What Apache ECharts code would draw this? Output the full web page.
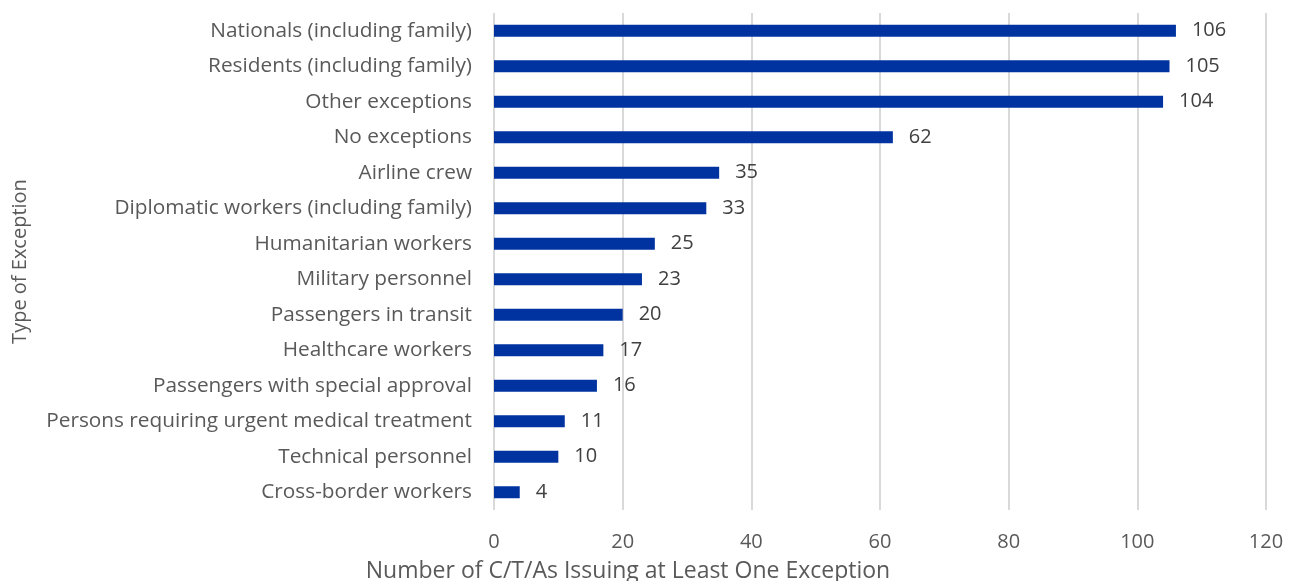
<!DOCTYPE html>
<html>
<head>
<meta charset="utf-8">
<script src="https://cdn.jsdelivr.net/npm/echarts@6/dist/echarts.min.js"></script>
<style>
  html, body { margin: 0; padding: 0; background: #fff; }
  #chart { width: 1290px; height: 581px; }
</style>
</head>
<body>
<div id="chart"></div>
<script>
const categories = [
    'Nationals (including family)',
    'Residents (including family)',
    'Other exceptions',
    'No exceptions',
    'Airline crew',
    'Diplomatic workers (including family)',
    'Humanitarian workers',
    'Military personnel',
    'Passengers in transit',
    'Healthcare workers',
    'Passengers with special approval',
    'Persons requiring urgent medical treatment',
    'Technical personnel',
    'Cross-border workers'
];
const counts = [106, 105, 104, 62, 35, 33, 25, 23, 20, 17, 16, 11, 10, 4];

const chart = echarts.init(document.getElementById('chart'));
const font = '"Open Sans", sans-serif';

chart.setOption({
    animation: false,
    // x-axis title sits centred on the whole chart, not on the plot
    title: {
        text: 'Number of C/T/As Issuing at Least One Exception',
        left: 623,
        top: 555,
        textAlign: 'center',
        textStyle: { fontFamily: font, fontSize: 23, fontWeight: 'normal', color: '#595959' }
    },
    grid: { left: 494, right: 24, top: 13, bottom: 71, outerBoundsMode: 'none' },
    xAxis: {
        type: 'value',
        min: 0,
        max: 120,
        interval: 20,
        axisLine: { show: false },
        axisTick: { show: false },
        axisLabel: { fontFamily: font, fontSize: 20, color: '#595959', margin: 22 },
        splitLine: { lineStyle: { color: '#d9d9d9', width: 2 } }
    },
    yAxis: {
        type: 'category',
        inverse: true,
        data: categories,
        name: 'Type of Exception',
        nameLocation: 'middle',
        nameGap: 464,
        nameRotate: 90,
        nameTextStyle: { fontFamily: font, fontSize: 20, color: '#595959' },
        axisLine: { show: false },
        axisTick: { show: false },
        axisLabel: { fontFamily: font, fontSize: 20.8, color: '#595959', margin: 22 }
    },
    series: [{
        type: 'bar',
        data: counts,
        barWidth: 12,
        itemStyle: { color: '#0033a0' },
        label: {
            show: true,
            position: 'right',
            distance: 16,
            fontFamily: font,
            fontSize: 20,
            color: '#404040'
        }
    }]
});
</script>
</body>
</html>
